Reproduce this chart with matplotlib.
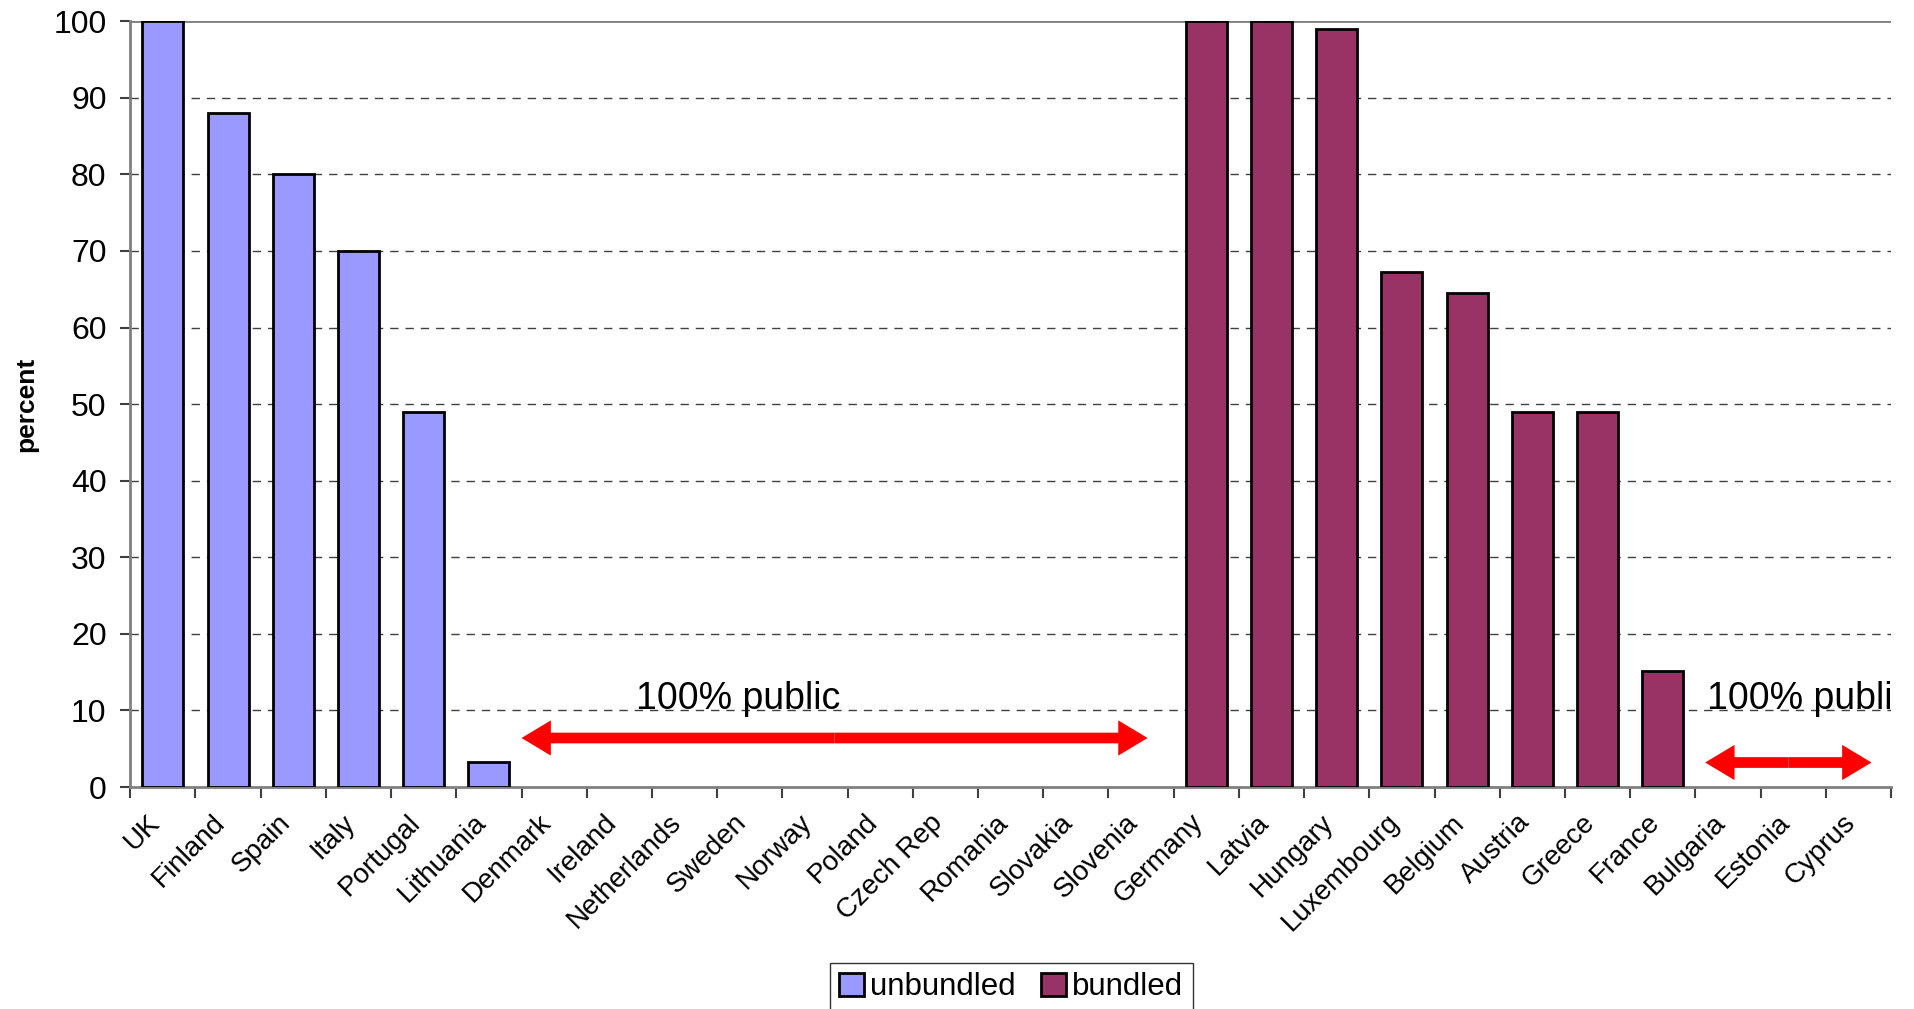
import numpy as np
import matplotlib
matplotlib.use('Agg')
import matplotlib.pyplot as plt
from matplotlib.transforms import ScaledTranslation

plt.rcParams['font.family'] = ['Liberation Sans', 'DejaVu Sans']

countries = ['UK', 'Finland', 'Spain', 'Italy', 'Portugal', 'Lithuania', 'Denmark',
             'Ireland', 'Netherlands', 'Sweden', 'Norway', 'Poland', 'Czech Rep',
             'Romania', 'Slovakia', 'Slovenia', 'Germany', 'Latvia', 'Hungary',
             'Luxembourg', 'Belgium', 'Austria', 'Greece', 'France', 'Bulgaria',
             'Estonia', 'Cyprus']
# NaN = no bar for that series
unbundled = [100, 88, 80, 70, 49, 3.3] + [np.nan] * 21
bundled = [np.nan] * 16 + [100, 100, 99, 67.2, 64.5, 49, 49, 15.2, np.nan, np.nan, np.nan]

# annotation: label, text start (x, y), arrow span (x0, x1), arrow y
notes = [
    ('100% public', (7.25, 11.5), (5.5, 15.1), 6.4),
    ('100% public', (23.68, 11.5), (23.65, 26.2), 3.2),
]

fig = plt.figure(figsize=(19.15, 10.09), dpi=100)
ax = fig.add_axes([0.068, 0.22, 0.9195, 0.759])

x = np.arange(len(countries))
ax.bar(x, unbundled, width=0.63, color='#9999FF', edgecolor='black', linewidth=2, label='unbundled', zorder=3)
ax.bar(x, bundled, width=0.63, color='#993366', edgecolor='black', linewidth=2, label='bundled', zorder=3)

ax.set_xlim(-0.5, len(countries) - 0.5)
ax.set_ylim(0, 100)

# gridlines
for yv in range(10, 100, 10):
    ax.axhline(yv, color='#404040', lw=1, ls=(0, (6, 5)), zorder=1)
ax.axhline(100, color='#808080', lw=2, zorder=1)

for s in ['top', 'right']:
    ax.spines[s].set_visible(False)
for s in ['left', 'bottom']:
    ax.spines[s].set_color('#808080')
    ax.spines[s].set_linewidth(2)

ax.set_yticks(range(0, 101, 10))
ax.tick_params(axis='y', length=7, width=1.5, color='#404040', labelsize=23, pad=10)
ax.set_xticks(x)
ax.set_xticklabels(countries, rotation=45, ha='right', rotation_mode='anchor', fontsize=20)
ax.tick_params(axis='x', which='major', length=0, pad=16)
shift = ScaledTranslation(-0.16, 0, fig.dpi_scale_trans)
for lab in ax.get_xticklabels():
    lab.set_transform(lab.get_transform() + shift)
ax.set_xticks(np.arange(-0.5, len(countries)), minor=True)
ax.tick_params(axis='x', which='minor', length=8, width=1.5, color='#404040')

ax.set_ylabel('percent', fontsize=19, fontweight='bold')
ax.yaxis.set_label_coords(-0.052, 0.5)

for label, (tx, ty), (a0, a1), ay in notes:
    ax.text(tx, ty, label, fontsize=27, ha='left', va='center', clip_on=True, zorder=4)
    mid = (a0 + a1) / 2
    hl = 0.45
    for end in (a0, a1):
        ax.arrow(mid, ay, end - mid, 0, width=1.4, head_width=4.6, head_length=hl,
                 length_includes_head=True, color='red', lw=0, zorder=4)

leg = fig.legend(loc='upper center', bbox_to_anchor=(0.528, 0.0456), ncol=2, fontsize=22.5,
                 frameon=True, fancybox=False, edgecolor='black', handlelength=0.8,
                 handleheight=0.8, handletextpad=0.2, columnspacing=0.8, borderpad=0.3,
                 borderaxespad=0)
leg.get_frame().set_linewidth(1)

fig.savefig('out.png', dpi=100)
